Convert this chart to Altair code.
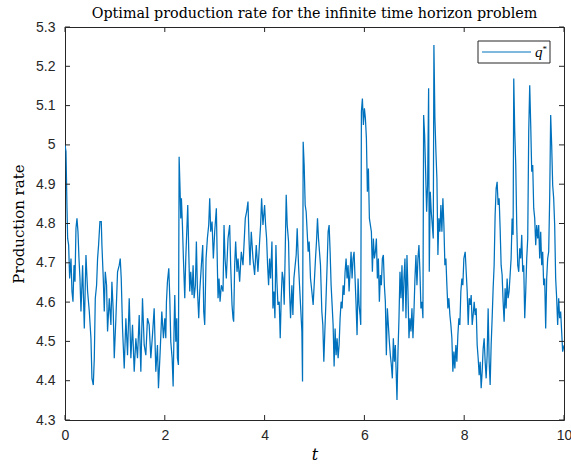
import altair as alt
import pandas as pd

# Time grid and optimal production rate q*(t)
t_vals = [
    0, 0.02, 0.04, 0.053, 0.073, 0.093, 0.12, 0.14, 0.16, 0.18, 0.2, 0.22, 0.24, 0.26, 0.28, 0.3,
    0.32, 0.353, 0.387, 0.42, 0.453, 0.487, 0.52, 0.54, 0.567, 0.587, 0.607, 0.633, 0.653, 0.673,
    0.7, 0.727, 0.74, 0.767, 0.787, 0.807, 0.833, 0.853, 0.887, 0.92, 0.94, 0.967, 0.987, 1.02,
    1.053, 1.087, 1.107, 1.127, 1.153, 1.187, 1.22, 1.253, 1.287, 1.32, 1.353, 1.387, 1.42, 1.453,
    1.487, 1.52, 1.553, 1.587, 1.62, 1.653, 1.687, 1.72, 1.753, 1.787, 1.82, 1.853, 1.873, 1.907,
    1.94, 1.973,
    2.0, 2.02, 2.033, 2.053, 2.08, 2.1, 2.12, 2.147, 2.167, 2.187, 2.2, 2.22, 2.24, 2.253, 2.273,
    2.287, 2.307, 2.32, 2.333, 2.353, 2.373, 2.4, 2.42, 2.44, 2.46, 2.48, 2.5, 2.52, 2.547, 2.567,
    2.587, 2.613, 2.633, 2.653, 2.68, 2.7, 2.733, 2.76, 2.78, 2.8, 2.827, 2.853, 2.88, 2.9, 2.92,
    2.947, 2.973, 3.0, 3.033, 3.053, 3.067, 3.087, 3.107, 3.133, 3.167, 3.187, 3.207, 3.233, 3.267,
    3.3, 3.32, 3.347, 3.367, 3.38, 3.4, 3.42, 3.447, 3.467, 3.5, 3.533, 3.567, 3.587, 3.613, 3.64,
    3.667, 3.687, 3.707, 3.733, 3.767, 3.8, 3.833, 3.867, 3.9, 3.92, 3.94, 3.967, 4.0,
    4.02, 4.04, 4.06, 4.08, 4.1, 4.12, 4.147, 4.167, 4.187, 4.207, 4.227, 4.247, 4.267, 4.293,
    4.313, 4.333, 4.353, 4.373, 4.393, 4.413, 4.433, 4.453, 4.48, 4.5, 4.52, 4.547, 4.567, 4.587,
    4.613, 4.633, 4.653, 4.68, 4.7, 4.72, 4.747, 4.76, 4.773, 4.793, 4.813, 4.833, 4.853, 4.873,
    4.893, 4.92, 4.947, 4.973, 5.0, 5.02, 5.04, 5.06, 5.08, 5.1, 5.12, 5.147, 5.167, 5.187, 5.207,
    5.227, 5.253, 5.273, 5.293, 5.313, 5.333, 5.353, 5.373, 5.393, 5.413, 5.433, 5.453, 5.473,
    5.493, 5.513, 5.533, 5.553, 5.573, 5.593, 5.613, 5.633, 5.653, 5.673, 5.693, 5.713, 5.733,
    5.753, 5.773, 5.793, 5.813, 5.833, 5.853, 5.873, 5.893, 5.913, 5.927, 5.94, 5.96, 5.98, 6.0,
    6.02, 6.04, 6.06, 6.08, 6.1, 6.12, 6.14, 6.16, 6.18, 6.2, 6.22, 6.24, 6.26, 6.28, 6.3, 6.32,
    6.34, 6.36, 6.38, 6.4, 6.42, 6.44, 6.46, 6.48, 6.5, 6.52, 6.54, 6.56, 6.58, 6.6, 6.62, 6.64,
    6.653, 6.673, 6.693, 6.713, 6.733, 6.753, 6.773, 6.793, 6.813, 6.833, 6.853, 6.873, 6.893,
    6.913, 6.933, 6.953, 6.973, 6.993, 7.013, 7.033, 7.053, 7.073, 7.093, 7.113, 7.133, 7.153,
    7.173, 7.187, 7.207, 7.227, 7.247, 7.267, 7.287, 7.3, 7.32, 7.34, 7.36, 7.38, 7.393, 7.413,
    7.433, 7.453, 7.473, 7.493, 7.513, 7.533, 7.553, 7.573, 7.593, 7.613, 7.633, 7.653, 7.673,
    7.693, 7.713, 7.733, 7.753, 7.773, 7.793, 7.813, 7.833, 7.853, 7.873, 7.893, 7.913, 7.933,
    7.953, 7.973, 7.993,
    8.02, 8.04, 8.06, 8.08, 8.1, 8.12, 8.14, 8.16, 8.18, 8.2, 8.22, 8.24, 8.26, 8.28, 8.3, 8.32,
    8.34, 8.36, 8.38, 8.4, 8.42, 8.44, 8.46, 8.48, 8.5, 8.52, 8.54, 8.56, 8.58, 8.6, 8.62, 8.64,
    8.66, 8.68, 8.7, 8.72, 8.74, 8.76, 8.78, 8.8, 8.82, 8.84, 8.86, 8.88, 8.9, 8.92, 8.94, 8.96,
    8.98, 8.993, 9.013, 9.033, 9.053, 9.073, 9.093, 9.113, 9.133, 9.153, 9.173, 9.193, 9.213,
    9.233, 9.253, 9.273, 9.293, 9.313, 9.333, 9.353, 9.373, 9.393, 9.413, 9.433, 9.453, 9.473,
    9.493, 9.513, 9.533, 9.553, 9.573, 9.593, 9.613, 9.633, 9.653, 9.673, 9.693, 9.713, 9.733,
    9.753, 9.773, 9.793, 9.813, 9.833, 9.853, 9.873, 9.893, 9.913, 9.933, 9.953, 9.973, 10.0,
]

q_vals = [
    5.0, 4.983, 4.839, 4.762, 4.745, 4.66, 4.711, 4.627, 4.601, 4.694, 4.652, 4.788, 4.813, 4.779,
    4.711, 4.66, 4.576, 4.694, 4.533, 4.72, 4.627, 4.576, 4.508, 4.406, 4.389, 4.457, 4.61, 4.643,
    4.711, 4.745, 4.805, 4.805, 4.745, 4.66, 4.576, 4.677, 4.643, 4.525, 4.61, 4.542, 4.652,
    4.576, 4.457, 4.559, 4.677, 4.694, 4.711, 4.66, 4.533, 4.431, 4.559, 4.465, 4.61, 4.457,
    4.542, 4.423, 4.508, 4.457, 4.567, 4.423, 4.61, 4.491, 4.465, 4.559, 4.542, 4.457, 4.516,
    4.584, 4.423, 4.491, 4.381, 4.474, 4.576, 4.508,
    4.559, 4.508, 4.601, 4.652, 4.686, 4.61, 4.499, 4.457, 4.385, 4.542, 4.618, 4.499, 4.559,
    4.457, 4.44, 4.97, 4.881, 4.813, 4.864, 4.796, 4.711, 4.61, 4.711, 4.779, 4.847, 4.728,
    4.627, 4.677, 4.618, 4.694, 4.61, 4.643, 4.754, 4.635, 4.559, 4.627, 4.694, 4.745, 4.576,
    4.542, 4.711, 4.762, 4.796, 4.864, 4.779, 4.805, 4.711, 4.779, 4.839, 4.694, 4.61, 4.66,
    4.601, 4.643, 4.627, 4.796, 4.711, 4.66, 4.762, 4.796, 4.694, 4.593, 4.559, 4.55, 4.694,
    4.754, 4.677, 4.711, 4.652, 4.728, 4.694, 4.745, 4.813, 4.83, 4.856, 4.762, 4.694, 4.779,
    4.711, 4.669, 4.745, 4.677, 4.754, 4.796, 4.864, 4.796, 4.847,
    4.796, 4.762, 4.694, 4.643, 4.711, 4.66, 4.754, 4.584, 4.627, 4.559, 4.745, 4.652, 4.593,
    4.601, 4.508, 4.61, 4.677, 4.66, 4.593, 4.728, 4.873, 4.796, 4.754, 4.627, 4.559, 4.643,
    4.567, 4.66, 4.694, 4.72, 4.788, 4.694, 4.643, 4.593, 4.525, 4.398, 5.008, 4.949, 4.847,
    4.83, 4.779, 4.728, 4.754, 4.66, 4.627, 4.593, 4.66, 4.711, 4.754, 4.813, 4.762, 4.728,
    4.694, 4.576, 4.542, 4.448, 4.525, 4.593, 4.694, 4.779, 4.796, 4.728, 4.643, 4.593, 4.542,
    4.436, 4.533, 4.465, 4.508, 4.457, 4.491, 4.559, 4.601, 4.584, 4.643, 4.618, 4.677, 4.711,
    4.66, 4.694, 4.627, 4.677, 4.728, 4.66, 4.711, 4.728, 4.66, 4.593, 4.516, 4.66, 4.593, 4.567,
    4.542, 5.085, 5.118, 5.051, 5.093,
    5.068, 5.017, 4.881, 4.94, 4.813, 4.796, 4.779, 4.677, 4.762, 4.711, 4.728, 4.762, 4.66,
    4.711, 4.601, 4.669, 4.643, 4.711, 4.72, 4.643, 4.601, 4.465, 4.584, 4.542, 4.499, 4.465,
    4.44, 4.406, 4.508, 4.448, 4.491, 4.406, 4.351, 4.474, 4.559, 4.677, 4.61, 4.694, 4.576,
    4.66, 4.711, 4.559, 4.72, 4.627, 4.508, 4.559, 4.525, 4.584, 4.508, 4.576, 4.66, 4.72,
    4.643, 4.711, 4.745, 4.677, 4.584, 4.601, 4.559, 5.076, 5.025, 4.932, 4.83, 4.898, 5.144,
    4.677, 4.881, 4.83, 4.796, 4.762, 5.254, 5.068, 4.983, 4.915, 4.72, 4.813, 4.779, 4.847,
    4.779, 4.864, 4.796, 4.694, 4.711, 4.643, 4.584, 4.61, 4.567, 4.542, 4.508, 4.423, 4.474,
    4.431, 4.491, 4.448, 4.516, 4.559, 4.542, 4.627, 4.66, 4.643, 4.711,
    4.728, 4.677, 4.627, 4.542, 4.61, 4.593, 4.618, 4.542, 4.567, 4.601, 4.567, 4.584, 4.491,
    4.457, 4.414, 4.448, 4.381, 4.423, 4.482, 4.508, 4.448, 4.406, 4.465, 4.584, 4.448, 4.389,
    4.491, 4.559, 4.635, 4.694, 4.822, 4.889, 4.906, 4.847, 4.864, 4.788, 4.694, 4.669, 4.601,
    4.55, 4.635, 4.584, 4.66, 4.61, 4.627, 4.669, 4.711, 4.813, 4.771, 5.169, 5.034, 4.949,
    4.796, 4.694, 4.677, 4.737, 4.711, 4.771, 4.677, 4.694, 4.559, 4.627, 4.711, 4.762, 5.034,
    5.152, 5.051, 4.932, 4.949, 4.839, 4.813, 4.745, 4.796, 4.762, 4.796, 4.711, 4.779, 4.694,
    4.728, 4.643, 4.66, 4.533, 4.66, 4.711, 4.728, 4.864, 5.076, 5.0, 4.898, 4.864, 4.796, 4.66,
    4.61, 4.542, 4.61, 4.559, 4.576, 4.525, 4.474, 4.49,
]

series_name = "q"
title_text = "Optimal production rate for the infinite time horizon problem"
y_ticks = [4.3, 4.4, 4.5, 4.6, 4.7, 4.8, 4.9, 5.0, 5.1, 5.2, 5.3]
x_ticks = [0, 2, 4, 6, 8, 10]

W, H = 499, 393
AXIS_COLOR = "#262626"
LINE_COLOR = "#0072BD"
SANS = "Liberation Sans"
SERIF = "DejaVu Serif"

df = pd.DataFrame({"t": t_vals, "q": q_vals})
yt = pd.DataFrame({"q": y_ticks})
xt = pd.DataFrame({"t": x_ticks})
lg = pd.DataFrame({"name": [series_name]})
tt = pd.DataFrame({"title": [title_text]})

xscale = alt.Scale(domain=[0, 10], nice=False, zero=False)
yscale = alt.Scale(domain=[4.3, 5.3], nice=False, zero=False)

x_axis = alt.Axis(values=x_ticks, format="d", title="t", labelFlush=False,
                  titleFont=SERIF, titleFontStyle="italic", titleFontSize=16,
                  titleFontWeight="normal", titlePadding=4, labelPadding=8)
y_axis = alt.Axis(values=y_ticks, format=".1~f", title="Production rate", labelFlush=False,
                  titleFont=SERIF, titleFontSize=15, titleFontWeight="normal",
                  titlePadding=9, labelPadding=10)

X = alt.X("t:Q", scale=xscale, axis=x_axis)
Y = alt.Y("q:Q", scale=yscale, axis=y_axis)

line = alt.Chart(df).mark_line(strokeWidth=1.25, color=LINE_COLOR, clip=True).encode(x=X, y=Y)

# Inward tick marks on all four sides of the box
tick_len = 5
rule = dict(color=AXIS_COLOR, strokeWidth=1)
y_left = alt.Chart(yt).mark_rule(**rule).encode(y=Y, x=alt.value(0), x2=alt.value(tick_len))
y_right = alt.Chart(yt).mark_rule(**rule).encode(y=Y, x=alt.value(W - tick_len), x2=alt.value(W))
x_bottom = alt.Chart(xt).mark_rule(**rule).encode(x=X, y=alt.value(H - tick_len), y2=alt.value(H))
x_top = alt.Chart(xt).mark_rule(**rule).encode(x=X, y=alt.value(0), y2=alt.value(tick_len))

# Legend box in the upper right corner
leg_box = alt.Chart(lg).mark_rect(fill="white", stroke=AXIS_COLOR, strokeWidth=1).encode(
    x=alt.value(413), x2=alt.value(485), y=alt.value(14), y2=alt.value(36))
leg_line = alt.Chart(lg).mark_rule(color=LINE_COLOR, strokeWidth=1).encode(
    x=alt.value(417), x2=alt.value(466), y=alt.value(25))
leg_q = alt.Chart(lg).mark_text(font="Liberation Serif", fontStyle="italic", fontSize=15,
                                align="left", baseline="alphabetic", color="#000000").encode(
    text="name:N", x=alt.value(470), y=alt.value(30))
leg_star = alt.Chart(lg).mark_text(font="Liberation Serif", fontSize=9, align="left",
                                   baseline="alphabetic", color="#000000", text="*").encode(
    x=alt.value(477.5), y=alt.value(25))

# Chart heading above the box
heading = alt.Chart(tt).mark_text(font=SERIF, fontSize=14.3, align="center",
                                  baseline="alphabetic", color="#000000").encode(
    text="title:N", x=alt.value(W / 2), y=alt.value(-9))

chart = alt.layer(line, y_left, y_right, x_bottom, x_top,
                  leg_box, leg_line, leg_q, leg_star, heading).properties(
    width=W, height=H,
    autosize=alt.AutoSizeParams(type="none"),
    padding={"left": 65, "top": 27, "right": 7, "bottom": 45},
).configure_view(
    stroke=AXIS_COLOR, strokeWidth=1
).configure_axis(
    domain=False, ticks=False, grid=False,
    labelFont=SANS, labelFontSize=14, labelColor=AXIS_COLOR,
    titleColor="#000000",
)

chart.save("out.html", embed_options={"renderer": "svg", "actions": False})
